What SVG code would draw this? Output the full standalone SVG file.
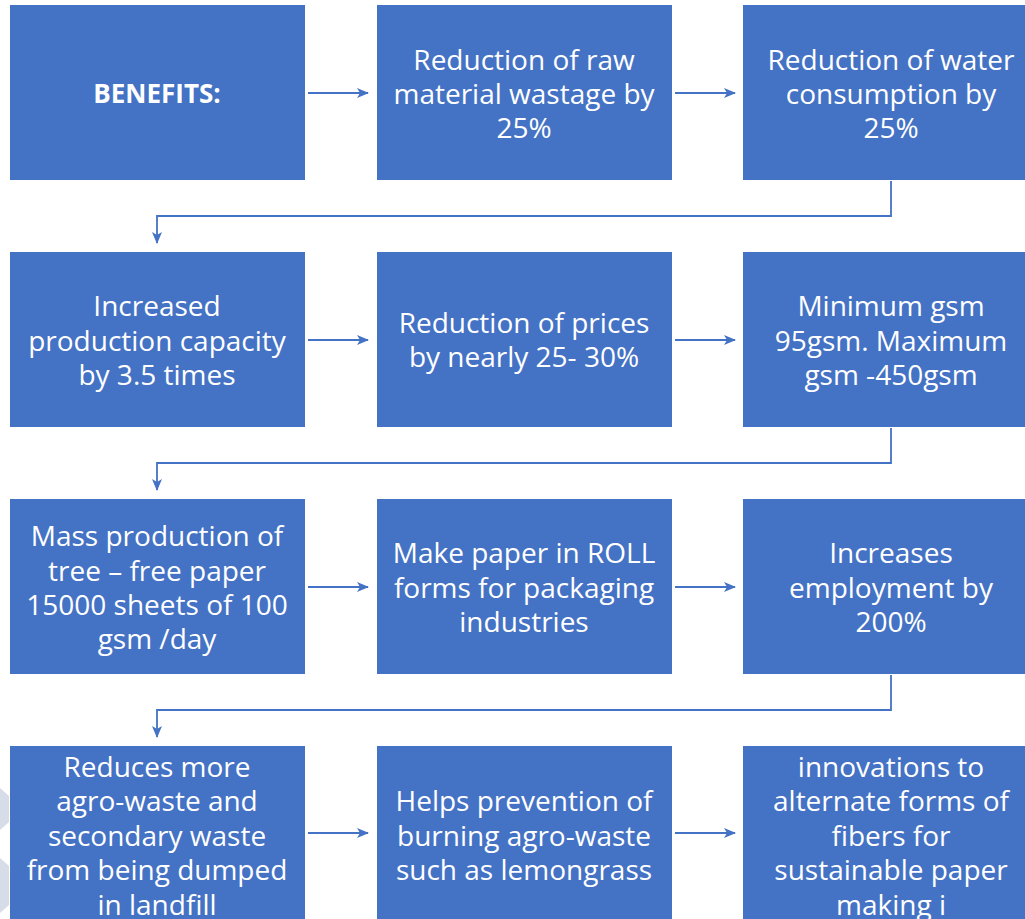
<svg xmlns="http://www.w3.org/2000/svg" width="1025" height="919" viewBox="0 0 1025 919">
<defs>
<style>
.box{fill:#4472C4;}
.t{font-family:"Open Sans","Liberation Sans",sans-serif;font-size:28px;fill:#FFFFFF;text-anchor:middle;}
.b{font-weight:bold;font-size:26px;}
.c{fill:none;stroke:#4472C4;stroke-width:1.8;}
.deco{fill:#D6DCE8;}
</style>
<marker id="ah" markerWidth="12" markerHeight="10" refX="11" refY="5" orient="auto" markerUnits="userSpaceOnUse">
<path d="M0,0 L12,5 L0,10 L3,5 Z" fill="#4472C4"/>
</marker>
</defs>
<rect width="1025" height="919" fill="#FFFFFF"/>
<polygon class="deco" points="0,788 9,796 9,822 0,830"/>
<polygon class="deco" points="0,858 9,866 9,905 0,913"/>
<g id="n1"><rect class="box" x="10" y="5" width="295" height="175"/><text class="t b" x="157" y="103">BENEFITS:</text></g>
<g id="n2"><rect class="box" x="377" y="5" width="295" height="175"/><text class="t" x="524" y="70">Reduction of raw</text><text class="t" x="524" y="104">material wastage by</text><text class="t" x="524" y="138">25%</text></g>
<g id="n3"><rect class="box" x="743" y="5" width="295" height="175"/><text class="t" x="891" y="70">Reduction of water</text><text class="t" x="891" y="104">consumption by</text><text class="t" x="891" y="138">25%</text></g>
<g id="n4"><rect class="box" x="10" y="252" width="295" height="175"/><text class="t" x="157" y="316">Increased</text><text class="t" x="157" y="351">production capacity</text><text class="t" x="157" y="385">by 3.5 times</text></g>
<g id="n5"><rect class="box" x="377" y="252" width="295" height="175"/><text class="t" x="524" y="333">Reduction of prices</text><text class="t" x="524" y="367">by nearly 25- 30%</text></g>
<g id="n6"><rect class="box" x="743" y="252" width="295" height="175"/><text class="t" x="891" y="316">Minimum gsm</text><text class="t" x="891" y="351">95gsm. Maximum</text><text class="t" x="891" y="385">gsm -450gsm</text></g>
<g id="n7"><rect class="box" x="10" y="499" width="295" height="175"/><text class="t" x="157" y="546">Mass production of</text><text class="t" x="157" y="581">tree – free paper</text><text class="t" x="157" y="615">15000 sheets of 100</text><text class="t" x="157" y="649">gsm /day</text></g>
<g id="n8"><rect class="box" x="377" y="499" width="295" height="175"/><text class="t" x="524" y="563">Make paper in ROLL</text><text class="t" x="524" y="598">forms for packaging</text><text class="t" x="524" y="632">industries</text></g>
<g id="n9"><rect class="box" x="743" y="499" width="295" height="175"/><text class="t" x="891" y="563">Increases</text><text class="t" x="891" y="598">employment by</text><text class="t" x="891" y="632">200%</text></g>
<g id="n10"><rect class="box" x="10" y="746" width="295" height="180"/><text class="t" x="157" y="777">Reduces more</text><text class="t" x="157" y="811">agro-waste and</text><text class="t" x="157" y="846">secondary waste</text><text class="t" x="157" y="880">from being dumped</text><text class="t" x="157" y="915">in landfill</text></g>
<g id="n11"><rect class="box" x="377" y="746" width="295" height="180"/><text class="t" x="524" y="811">Helps prevention of</text><text class="t" x="524" y="846">burning agro-waste</text><text class="t" x="524" y="880">such as lemongrass</text></g>
<g id="n12"><rect class="box" x="743" y="746" width="295" height="180"/><text class="t" x="891" y="777">innovations to</text><text class="t" x="891" y="811">alternate forms of</text><text class="t" x="891" y="846">fibers for</text><text class="t" x="891" y="880">sustainable paper</text><text class="t" x="891" y="915">making i</text></g>
<g id="connectors">
<line class="c" x1="308" y1="93" x2="368" y2="93" marker-end="url(#ah)"/>
<line class="c" x1="675" y1="93" x2="735" y2="93" marker-end="url(#ah)"/>
<path class="c" d="M891,181 V216 H157 V243" marker-end="url(#ah)"/>
<line class="c" x1="308" y1="340" x2="368" y2="340" marker-end="url(#ah)"/>
<line class="c" x1="675" y1="340" x2="735" y2="340" marker-end="url(#ah)"/>
<path class="c" d="M891,428 V463 H157 V490" marker-end="url(#ah)"/>
<line class="c" x1="308" y1="587" x2="368" y2="587" marker-end="url(#ah)"/>
<line class="c" x1="675" y1="587" x2="735" y2="587" marker-end="url(#ah)"/>
<path class="c" d="M891,675 V710 H157 V737" marker-end="url(#ah)"/>
<line class="c" x1="308" y1="833" x2="368" y2="833" marker-end="url(#ah)"/>
<line class="c" x1="675" y1="833" x2="735" y2="833" marker-end="url(#ah)"/>
</g>
</svg>
